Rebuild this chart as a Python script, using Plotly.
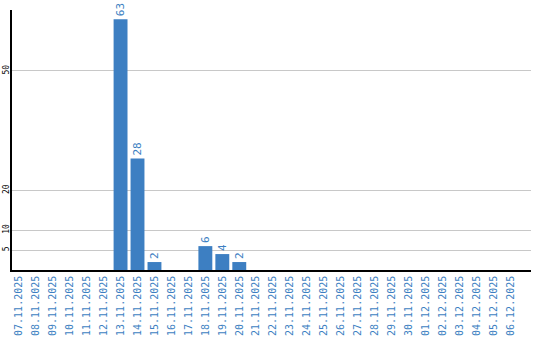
import plotly.graph_objects as go

dates = ["07.11.2025", "08.11.2025", "09.11.2025", "10.11.2025", "11.11.2025",
         "12.11.2025", "13.11.2025", "14.11.2025", "15.11.2025", "16.11.2025",
         "17.11.2025", "18.11.2025", "19.11.2025", "20.11.2025", "21.11.2025",
         "22.11.2025", "23.11.2025", "24.11.2025", "25.11.2025", "26.11.2025",
         "27.11.2025", "28.11.2025", "29.11.2025", "30.11.2025", "01.12.2025",
         "02.12.2025", "03.12.2025", "04.12.2025", "05.12.2025", "06.12.2025"]
values = [0, 0, 0, 0, 0, 0, 63, 28, 2, 0, 0, 6, 4, 2, 0,
          0, 0, 0, 0, 0, 0, 0, 0, 0, 0, 0, 0, 0, 0, 0]
y_ticks = [5, 10, 20, 50]

blue = "#3d7fc2"
mono = "DejaVu Sans Mono"

fig = go.Figure()
fig.add_trace(go.Bar(
    x=list(range(len(dates))),
    y=values,
    width=0.82,
    marker=dict(color=blue, line=dict(width=0)),
    text=[str(v) if v else "" for v in values],
    textposition="outside",
    textangle=-90,
    textfont=dict(family=mono, size=11, color=blue),
    cliponaxis=False,
))

fig.update_layout(
    width=540, height=340,
    margin=dict(l=12, r=9, t=10, b=70),
    plot_bgcolor="white", paper_bgcolor="white",
    showlegend=False,
    bargap=0.18,
    uniformtext=dict(minsize=8, mode="show"),
)
fig.update_xaxes(
    range=[-0.4, 30.2],
    tickmode="array",
    tickvals=list(range(len(dates))),
    ticktext=dates,
    tickangle=-90,
    tickfont=dict(family=mono, size=10, color=blue),
    showgrid=False,
    showline=True, linecolor="black", linewidth=1.5,
    ticks="",
    zeroline=False,
    automargin=False,
)
fig.update_yaxes(
    range=[0, 65.3],
    tickmode="array",
    tickvals=y_ticks,
    ticktext=[str(t) for t in y_ticks],
    tickangle=-90,
    tickfont=dict(family=mono, size=8, color="black"),
    showgrid=True, gridcolor="#c8c8c8", gridwidth=1,
    showline=True, linecolor="black", linewidth=1.5,
    ticks="",
    zeroline=False,
    ticklabelstandoff=-2,
    automargin=False,
)

fig.write_html("out.html")
